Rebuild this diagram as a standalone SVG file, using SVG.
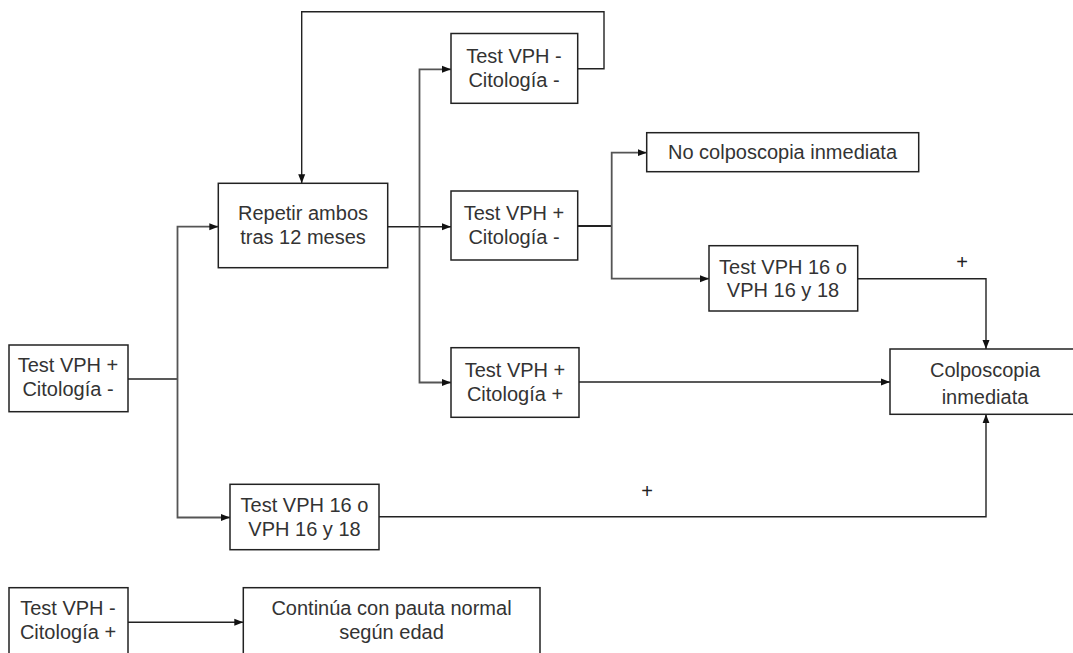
<svg xmlns="http://www.w3.org/2000/svg" width="1073" height="653" viewBox="0 0 1073 653">
<style>
.box{fill:#fff;stroke:#222;stroke-width:1.5}
.t{font-family:"Liberation Sans",Arial,sans-serif;font-size:20px;fill:#333;text-anchor:middle}
.c{fill:none;stroke:#222;stroke-width:1.4}
.g{fill:none;stroke:#555;stroke-width:1.8}
.lbl{font-family:"Liberation Sans",Arial,sans-serif;font-size:20px;fill:#222;text-anchor:middle}
</style>
<defs>
<marker id="ah" markerUnits="userSpaceOnUse" markerWidth="10" markerHeight="8" refX="9" refY="4" orient="auto">
<path d="M0,0.5 L9,4 L0,7.5 Z" fill="#111"/>
</marker>
</defs>
<rect width="1073" height="653" fill="#fff"/>
<g id="connectors">
<path class="c" d="M128,379 H177.5"/>
<path class="g" d="M177.5,379 V226.7 H218.3" marker-end="url(#ah)"/>
<path class="g" d="M177.5,379 V517.5 H230" marker-end="url(#ah)"/>
<path class="c" d="M387.7,226.7 H451" marker-end="url(#ah)"/>
<path class="g" d="M419.5,226.7 V69.3 H451" marker-end="url(#ah)"/>
<path class="g" d="M419.5,226.7 V382.5 H451" marker-end="url(#ah)"/>
<path class="c" d="M577.7,68.7 H604 V11.7 H301.7 V183.3" marker-end="url(#ah)"/>
<path class="c" style="stroke-width:2.2" d="M577.7,226 H611.7"/>
<path class="g" d="M611.7,226 V152.7 H646.7" marker-end="url(#ah)"/>
<path class="g" d="M611.7,226 V278.7 H709" marker-end="url(#ah)"/>
<path class="c" d="M857.7,278.7 H986 V349" marker-end="url(#ah)"/>
<path class="c" d="M579,382 H890" marker-end="url(#ah)"/>
<path class="c" d="M379,516.7 H986 V414.3" marker-end="url(#ah)"/>
<path class="c" d="M128,622.3 H243.3" marker-end="url(#ah)"/>
<text class="lbl" x="962" y="269">+</text>
<text class="lbl" x="647" y="498">+</text>
</g>
<g id="n_vphneg_citneg">
<rect class="box" x="451" y="33.5" width="126.7" height="69.8"/>
<text class="t" x="514" y="63">Test VPH -</text>
<text class="t" x="514" y="87">Citología -</text>
</g>
<g id="n_repetir">
<rect class="box" x="218.3" y="183.3" width="169.4" height="84.4"/>
<text class="t" x="303" y="220">Repetir ambos</text>
<text class="t" x="303" y="244">tras 12 meses</text>
</g>
<g id="n_vphpos_citneg_2">
<rect class="box" x="451" y="191" width="126.7" height="69"/>
<text class="t" x="514" y="220">Test VPH +</text>
<text class="t" x="514" y="244">Citología -</text>
</g>
<g id="n_no_colpo">
<rect class="box" x="646.7" y="132.7" width="272" height="39"/>
<text class="t" x="782.5" y="159">No colposcopia inmediata</text>
</g>
<g id="n_vph16_right">
<rect class="box" x="709" y="245.7" width="148.7" height="65.3"/>
<text class="t" x="783" y="274">Test VPH 16 o</text>
<text class="t" x="783" y="297">VPH 16 y 18</text>
</g>
<g id="n_vphpos_citpos">
<rect class="box" x="451" y="347.7" width="128" height="69.6"/>
<text class="t" x="515" y="377">Test VPH +</text>
<text class="t" x="515" y="401">Citología +</text>
</g>
<g id="n_colpo">
<rect class="box" x="890" y="349" width="200" height="65.3"/>
<text class="t" x="985" y="376.5">Colposcopia</text>
<text class="t" x="985" y="404">inmediata</text>
</g>
<g id="n_vphpos_citneg">
<rect class="box" x="9" y="345" width="119" height="66.7"/>
<text class="t" x="68" y="372">Test VPH +</text>
<text class="t" x="68" y="396">Citología -</text>
</g>
<g id="n_vph16_left">
<rect class="box" x="230" y="484.3" width="149" height="65.4"/>
<text class="t" x="304.5" y="512">Test VPH 16 o</text>
<text class="t" x="304.5" y="536">VPH 16 y 18</text>
</g>
<g id="n_vphneg_citpos">
<rect class="box" x="9" y="587.7" width="119" height="80"/>
<text class="t" x="68" y="615">Test VPH -</text>
<text class="t" x="68" y="639">Citología +</text>
</g>
<g id="n_continua">
<rect class="box" x="243.3" y="587.7" width="296.7" height="80"/>
<text class="t" x="391.5" y="615">Continúa con pauta normal</text>
<text class="t" x="391.5" y="639">según edad</text>
</g>
</svg>
